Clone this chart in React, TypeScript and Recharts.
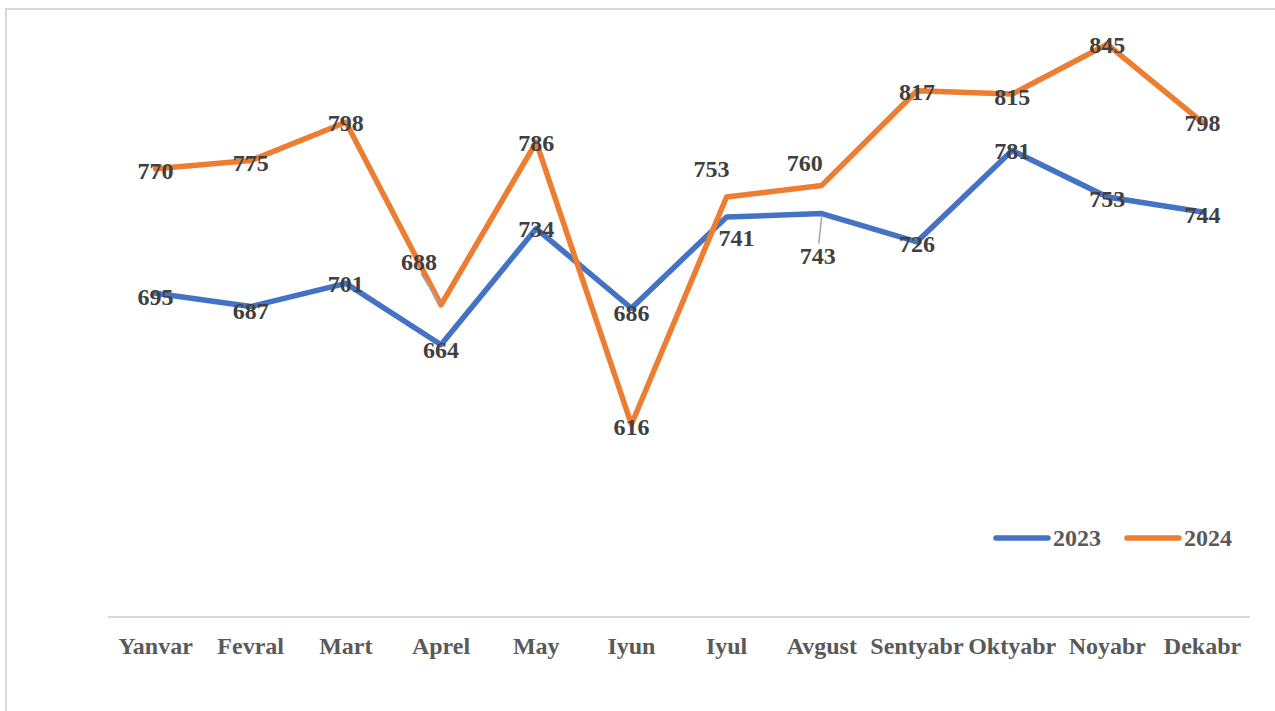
import React from 'react';
import { LineChart, Line, XAxis, YAxis } from 'recharts';

const months = ['Yanvar', 'Fevral', 'Mart', 'Aprel', 'May', 'Iyun', 'Iyul', 'Avgust', 'Sentyabr', 'Oktyabr', 'Noyabr', 'Dekabr'];
const values2023 = [695, 687, 701, 664, 734, 686, 741, 743, 726, 781, 753, 744];
const values2024 = [770, 775, 798, 688, 786, 616, 753, 760, 817, 815, 845, 798];
const seriesNames = ['2023', '2024'];

const data = months.map((m, i) => ({ month: m, y2023: values2023[i], y2024: values2024[i] }));

const FONT = '"Liberation Serif", "Times New Roman", serif';
const BLUE = '#4472C4';
const ORANGE = '#ED7D31';
const COLORS = [BLUE, ORANGE];

// label offsets (dx, dy) relative to the point, and optional leader lines
const off2023: [number, number][] = [[0, 3], [0, 4], [0, 0], [0, 5], [0, 0], [0, 4], [10, 20], [-4, 42], [0, 2], [0, 0], [0, 1], [0, 2]];
const off2024: [number, number][] = [[0, 2], [0, 2], [0, 0], [-22, -44], [0, 0], [0, 2], [-15, -29], [-17, -23], [0, 1], [0, 2], [0, 0], [0, 0]];
const leader2023 = [false, false, false, false, false, false, false, true, false, false, false, false];
const leader2024 = [false, false, false, true, false, false, false, false, false, false, false, false];

const makeLabel = (offs: [number, number][], leaders: boolean[]) => (props: any) => {
  const { x, y, value, index } = props;
  const [dx, dy] = offs[index] || [0, 0];
  const lx = x + dx;
  const ly = y + dy;
  let leader = null;
  if (leaders[index]) {
    const sy = dy > 0 ? ly - 12 : ly + 13;
    const sx = dy > 0 ? lx + 1 : lx + 2;
    leader = <line x1={sx} y1={sy} x2={x - (dy > 0 ? 0 : 1)} y2={y - (dy > 0 ? -2 : 1)} stroke="#A6A6A6" strokeWidth={1.5} />;
  }
  return (
    <g>
      {leader}
      <text x={lx} y={ly} dy="0.36em" textAnchor="middle" fontFamily={FONT} fontWeight="bold" fontSize={24} fill="#404040">
        {value}
      </text>
    </g>
  );
};

const Tick = (props: any) => {
  const { x, y, payload } = props;
  return (
    <text x={x} y={y + 37} textAnchor="middle" fontFamily={FONT} fontWeight="bold" fontSize={24} fill="#595959">
      {payload.value}
    </text>
  );
};

export default function App() {
  return (
    <div style={{ position: 'absolute', left: 0, top: 0, width: 1275, height: 711, overflow: 'hidden', background: '#fff' }}>
      <div style={{ position: 'absolute', left: 5, top: 8, width: 1400, height: 900, border: '2px solid #D9D9D9' }} />
      <div style={{ position: 'absolute', left: 0, top: 0 }}>
        <LineChart width={1275} height={711} data={data} margin={{ top: 36, right: 25, bottom: 64, left: 108 }}>
          <XAxis
            dataKey="month"
            height={30}
            padding={{ left: 47.5, right: 47.5 }}
            axisLine={{ stroke: '#D9D9D9', strokeWidth: 2 }}
            tickLine={false}
            tickSize={0}
            tickMargin={0}
            interval={0}
            tick={<Tick />}
          />
          <YAxis hide domain={[500, 850]} allowDataOverflow />
          <Line
            type="linear"
            dataKey="y2023"
            name="2023"
            stroke={BLUE}
            strokeWidth={5.5}
            strokeLinejoin="round"
            strokeLinecap="round"
            dot={false}
            activeDot={false}
            isAnimationActive={false}
            label={makeLabel(off2023, leader2023)}
          />
          <Line
            type="linear"
            dataKey="y2024"
            name="2024"
            stroke={ORANGE}
            strokeWidth={5.5}
            strokeLinejoin="round"
            strokeLinecap="round"
            dot={false}
            activeDot={false}
            isAnimationActive={false}
            label={makeLabel(off2024, leader2024)}
          />
        </LineChart>
      </div>
      <svg width={280} height={40} style={{ position: 'absolute', left: 990, top: 520 }}>
        {seriesNames.map((name, i) => {
          const bx = 6 + i * 131;
          return (
            <g key={name}>
              <line x1={bx} y1={18} x2={bx + 52} y2={18} stroke={COLORS[i]} strokeWidth={5.5} strokeLinecap="round" />
              <text x={bx + 57} y={26} fontFamily={FONT} fontWeight="bold" fontSize={24} fill="#595959">
                {name}
              </text>
            </g>
          );
        })}
      </svg>
    </div>
  );
}
